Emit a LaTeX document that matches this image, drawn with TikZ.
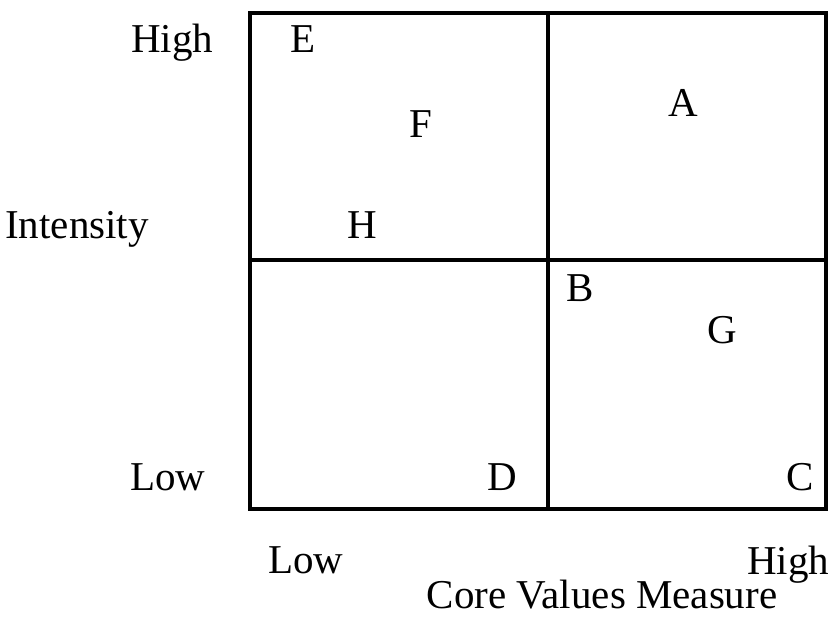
\documentclass[tikz,border=0pt]{standalone}
\usepackage{fontspec}
\setmainfont{Liberation Serif}
\begin{document}
\begin{tikzpicture}[x=1pt, y=-1pt, line width=3.2pt,
                    every node/.style={anchor=base, inner sep=0pt, font=\fontsize{41}{49}\selectfont}]
                    \useasboundingbox (0,0) rectangle (832,617);
                    \draw (250,13) rectangle (826,509);
                    \draw (548,13) -- (548,509);
                    \draw (250,260) -- (826,260);
                    
                    % Axis labels
                    \node (ihigh) at (172, 53) {High};
                    \node (intensity) at (77, 239) {Intensity};
                    \node (ilow) at (168, 490) {Low};
                    \node (clow) at (306, 573) {Low};
                    \node (chigh) at (788, 574) {High};
                    \node (core) at (602, 608) {Core Values Measure};
                    
                    % Points
                    \node (e) at (303, 53) {E};
                    \node (f) at (421, 138) {F};
                    \node (a) at (683, 117) {A};
                    \node (h) at (362, 239) {H};
                    \node (b) at (580, 302) {B};
                    \node (g) at (722, 344) {G};
                    \node (d) at (502, 490) {D};
                    \node (c) at (800, 490) {C};
                \end{tikzpicture}
\end{document}
